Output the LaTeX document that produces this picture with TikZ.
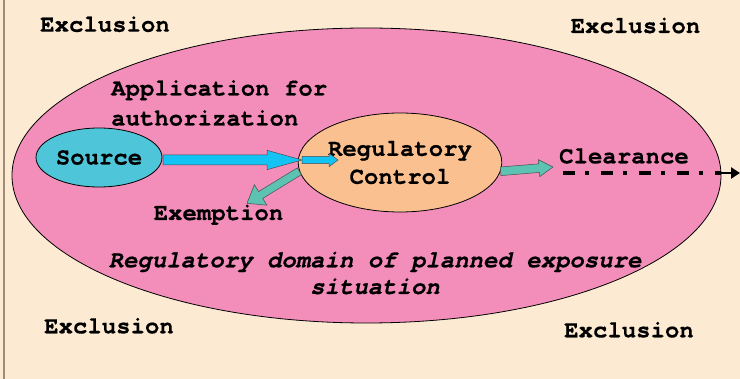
\documentclass[tikz,border=0pt]{standalone}
\usepackage{fontspec}
\setmonofont{texgyrecursor}[Extension=.otf, UprightFont=*-regular, BoldFont=*-bold,
  ItalicFont=*-italic, BoldItalicFont=*-bolditalic,
  BoldFeatures={FakeBold=0.4}, BoldItalicFeatures={FakeBold=0.4}]
\usetikzlibrary{calc,shapes.geometric,arrows.meta}

\definecolor{paper}{HTML}{FCEBD2}
\definecolor{rim}{HTML}{A08C78}
\definecolor{domainpink}{HTML}{F38EBB}
\definecolor{sourcecyan}{HTML}{4FC5D9}
\definecolor{controlpeach}{HTML}{FBC08F}
\definecolor{flowblue}{HTML}{12C3F3}
\definecolor{flowteal}{HTML}{5CC2B1}

% Flat block arrow: [style]{tail}{tip}{shaft half-width}{head half-width}{head length}
\newcommand{\blockarrow}[6][]{%
  \coordinate (ba-h) at ($(#3)!#6!(#2)$);
  \draw[#1] ($(#2)!#4!90:(#3)$) -- ($(ba-h)!#4!90:(#3)$) -- ($(ba-h)!#5!90:(#3)$)
    -- (#3) -- ($(ba-h)!#5!-90:(#3)$) -- ($(ba-h)!#4!-90:(#3)$)
    -- ($(#2)!#4!-90:(#3)$) -- cycle;}

\begin{document}
\begin{tikzpicture}[x=1pt,y=-1pt,
  every node/.style={inner sep=0pt},
  lbl/.style={font=\ttfamily\bfseries\fontsize{24}{28}\selectfont},
  ital/.style={font=\ttfamily\bfseries\itshape\fontsize{24}{26.7}\selectfont},
  bubble/.style={ellipse, draw=black, line width=0.8pt},
  blockline/.style={draw=black!70, line width=0.5pt, line join=miter}]
\useasboundingbox (0,0) rectangle (740,379);
\fill[paper] (0,0) rectangle (740,379);
\draw[rim, line width=2pt] (3.7,0) -- (3.7,379);

% regions
\node[bubble, fill=domainpink, minimum width=709pt, minimum height=295pt] (domain) at (366.5,175.5) {};
\node[bubble, fill=sourcecyan, minimum width=126pt, minimum height=59pt, lbl] (source) at (99,157.5) {Source};
\node[bubble, fill=controlpeach, minimum width=198pt, minimum height=99pt, lbl, align=center] (rc) at (400,162.5) {Regulatory\\Control};

% labels
\node[lbl, anchor=base] (exTL) at (105,31.7) {Exclusion};
\node[lbl, anchor=base] (exTR) at (635.5,33) {Exclusion};
\node[lbl, anchor=base] (exBL) at (109,333.3) {Exclusion};
\node[lbl, anchor=base] (exBR) at (629,337.3) {Exclusion};
\node[lbl, font=\ttfamily\bfseries\fontsize{24}{30}\selectfont, align=left, anchor=west] (app) at (111,103) {Application for\\authorization};
\node[lbl, anchor=base] (exempt) at (218.5,220) {Exemption};
\node[lbl, anchor=base] (clr) at (624,163.3) {Clearance};
\node[ital, align=center] (domtxt) at (375,273) {Regulatory domain of planned exposure\\situation};

% flow anchors
\coordinate (in-tail) at (163,160);
\coordinate (in-tip) at (302,160);
\coordinate (in-end) at (338,160);
\coordinate (ex-tail) at (rc.185);
\coordinate (ex-tip) at (247,203.3);
\coordinate (cl-tail) at (rc.-5);
\coordinate (cl-tip) at (553,167);
\coordinate (cl-line) at (563,173);
\coordinate (out) at (740,173);

% flows
\blockarrow[blockline, fill=flowblue]{in-tail}{in-tip}{5pt}{9.7pt}{35pt}
\blockarrow[blockline, fill=flowblue]{in-tip}{in-end}{3.7pt}{6.7pt}{9pt}
\blockarrow[blockline, fill=flowteal]{ex-tail}{ex-tip}{4pt}{12pt}{16pt}
\blockarrow[blockline, fill=flowteal]{cl-tail}{cl-tip}{4.3pt}{8.5pt}{14pt}

\draw[line width=3.5pt, dash pattern=on 12pt off 10pt on 4pt off 12pt] (cl-line) -- (domain.east |- cl-line);
\draw[line width=2.8pt, -{Triangle[length=9pt,width=11pt]}] (domain.east |- cl-line) -- (out);
\end{tikzpicture}
\end{document}
